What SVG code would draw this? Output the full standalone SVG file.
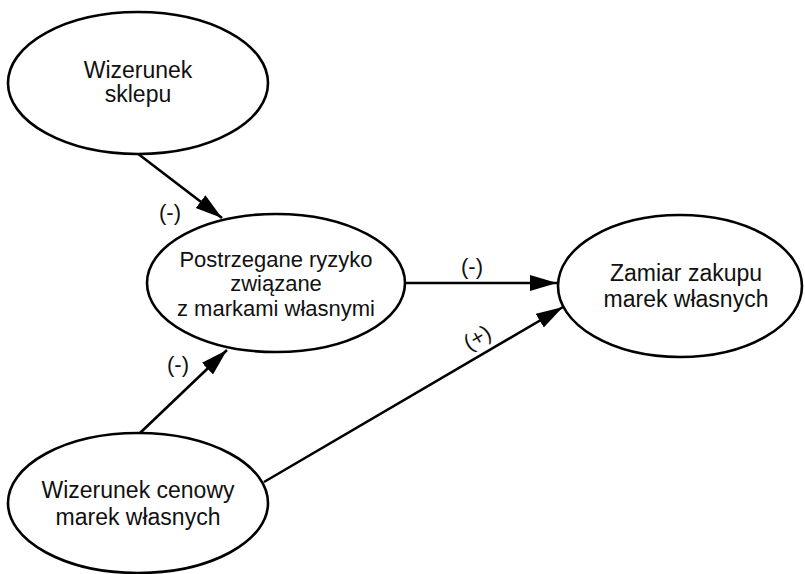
<svg xmlns="http://www.w3.org/2000/svg" width="805" height="574" viewBox="0 0 805 574">
<style>
.n{fill:#fff;stroke:#000;stroke-width:2.6}
.t{font-family:"Liberation Sans",Arial,sans-serif;font-size:23px;fill:#111;text-anchor:middle}
.l{font-family:"Liberation Sans",Arial,sans-serif;font-size:22px;fill:#111;text-anchor:middle}
.c{fill:none;stroke:#000;stroke-width:2.6}
</style>
<defs>
<marker id="ah" markerUnits="userSpaceOnUse" markerWidth="28" markerHeight="17" refX="27" refY="8" orient="auto">
<path d="M0,0 L27,8 L0,16 z" fill="#000"/>
</marker>
</defs>
<rect width="805" height="574" fill="#fff"/>
<g id="connectors">
<line class="c" x1="137" y1="153" x2="222" y2="218" marker-end="url(#ah)"/>
<line class="c" x1="405" y1="283" x2="557" y2="283" marker-end="url(#ah)"/>
<line class="c" x1="140" y1="433" x2="227" y2="350" marker-end="url(#ah)"/>
<line class="c" x1="264" y1="482" x2="563" y2="307" marker-end="url(#ah)"/>
<text class="l" x="170" y="220">(-)</text>
<text class="l" x="472" y="274">(-)</text>
<text class="l" x="178" y="372">(-)</text>
<text class="l" x="0" y="0" transform="translate(481,344) rotate(-30)">(+)</text>
</g>
<g id="node-wizerunek-sklepu">
<ellipse class="n" cx="138" cy="83" rx="130" ry="71"/>
<text class="t" x="138" y="78">Wizerunek</text>
<text class="t" x="138" y="102">sklepu</text>
</g>
<g id="node-postrzegane-ryzyko">
<ellipse class="n" cx="276" cy="283" rx="129" ry="69"/>
<text class="t" x="276" y="267" style="font-size:22px">Postrzegane ryzyko</text>
<text class="t" x="276" y="291" style="font-size:22px">związane</text>
<text class="t" x="276" y="316" style="font-size:22px">z markami własnymi</text>
</g>
<g id="node-zamiar-zakupu">
<ellipse class="n" cx="680" cy="286" rx="122" ry="71"/>
<text class="t" x="686" y="281">Zamiar zakupu</text>
<text class="t" x="686" y="307">marek własnych</text>
</g>
<g id="node-wizerunek-cenowy">
<ellipse class="n" cx="138" cy="503" rx="130" ry="70"/>
<text class="t" x="138" y="498">Wizerunek cenowy</text>
<text class="t" x="138" y="525">marek własnych</text>
</g>
</svg>
